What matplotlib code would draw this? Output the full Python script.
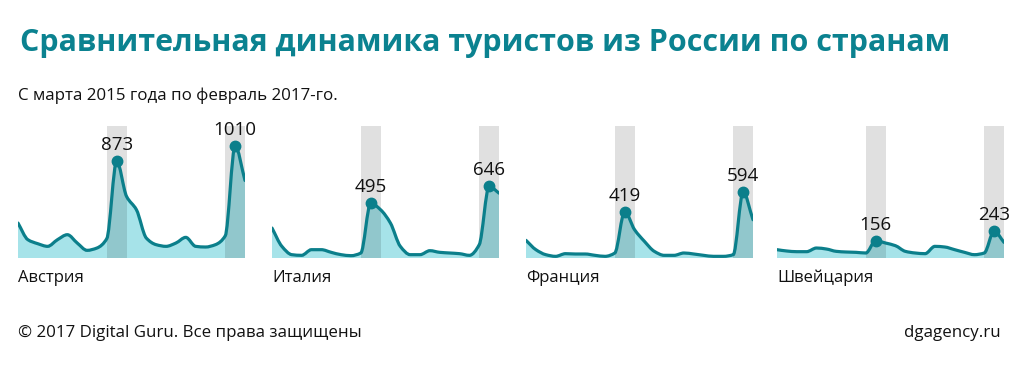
import numpy as np
import matplotlib.pyplot as plt
from matplotlib.path import Path
from matplotlib.patches import PathPatch

# март 2015 - февраль 2017, тыс. туристов
months = list(range(24))
countries = ['Австрия', 'Италия', 'Франция', 'Швейцария']
austria = [315, 165, 129, 105, 165, 210, 135, 69, 90, 175, 873, 555,
           435, 180, 120, 105, 135, 186, 105, 99, 120, 200, 1010, 699]
italy = [270, 105, 30, 24, 75, 75, 51, 30, 21, 45, 495, 435,
         315, 105, 30, 30, 66, 51, 45, 39, 24, 120, 646, 585]
france = [159, 75, 30, 15, 39, 36, 36, 24, 15, 45, 419, 255,
          150, 60, 24, 24, 45, 36, 24, 15, 15, 30, 594, 345]
swiss = [75, 63, 57, 57, 90, 81, 60, 54, 51, 45, 156, 135,
         111, 60, 45, 39, 105, 99, 75, 51, 30, 45, 243, 141]
series = [austria, italy, france, swiss]
peaks = [10, 22]
seasons = [(9, 11), (21, 23)]

LINE = '#0b7f8b'
FILL = '#a6e3e9'
TEXT = '#111111'
plt.rcParams['font.family'] = ['Open Sans', 'DejaVu Sans']


def smooth_path(x, y, close=False):
    # монотонная кубическая кривая через точки (без выбросов за пики)
    x = np.asarray(x, float)
    y = np.asarray(y, float)
    d = np.diff(y)
    m = np.zeros_like(y)
    m[0], m[-1] = d[0], d[-1]
    for i in range(1, len(y) - 1):
        if d[i - 1] * d[i] > 0:
            m[i] = 2.0 / (1.0 / d[i - 1] + 1.0 / d[i])
    verts = [(x[0], y[0])]
    codes = [Path.MOVETO]
    for i in range(len(y) - 1):
        verts += [(x[i] + 1 / 3, y[i] + m[i] / 3),
                  (x[i + 1] - 1 / 3, y[i + 1] - m[i + 1] / 3),
                  (x[i + 1], y[i + 1])]
        codes += [Path.CURVE4] * 3
    if close:
        verts += [(x[-1], 0), (x[0], 0), (x[0], 0)]
        codes += [Path.LINETO, Path.LINETO, Path.CLOSEPOLY]
    return Path(verts, codes)


fig = plt.figure(figsize=(10.23, 3.71), dpi=100)
W, H = 1023, 371
lefts = [18, 272, 526, 777]
base, top = 258, 126

for left, name, vals in zip(lefts, countries, series):
    ax = fig.add_axes([left / W, (H - base) / H, 227 / W, (base - top) / H])
    ax.set_xlim(0, 23)
    ax.set_ylim(0, 1190)
    ax.axis('off')
    ax.add_patch(PathPatch(smooth_path(months, vals, close=True),
                           facecolor=FILL, edgecolor='none', zorder=1))
    for a, b in seasons:
        ax.axvspan(a, b, color='black', alpha=0.12, lw=0, zorder=2)
    ax.add_patch(PathPatch(smooth_path(months, vals), facecolor='none',
                           edgecolor=LINE, lw=2.3, capstyle='round', zorder=3))
    for p in peaks:
        ax.plot(months[p], vals[p], 'o', color=LINE, ms=7.5, zorder=4,
                clip_on=False)
        ax.annotate(str(vals[p]), (months[p], vals[p]), xytext=(0, 5),
                    textcoords='offset points', ha='center', va='bottom',
                    fontsize=13.5, color=TEXT, annotation_clip=False)
    fig.text(left / W, 1 - 278 / H, name, fontsize=12, color=TEXT,
             ha='left', va='center')

fig.text(20 / W, 1 - 43 / H, 'Сравнительная динамика туристов из России по странам',
         fontsize=21.9, fontweight='bold', color='#0b8290', ha='left', va='center')
fig.text(18 / W, 1 - 96 / H, 'С марта 2015 года по февраль 2017-го.',
         fontsize=12.2, color=TEXT, ha='left', va='center')
fig.text(18 / W, 1 - 333 / H, '© 2017 Digital Guru. Все права защищены',
         fontsize=12.2, color=TEXT, ha='left', va='center')
fig.text(1001 / W, 1 - 333 / H, 'dgagency.ru',
         fontsize=12.2, color=TEXT, ha='right', va='center')

fig.savefig('out.png', dpi=100, facecolor='white')
